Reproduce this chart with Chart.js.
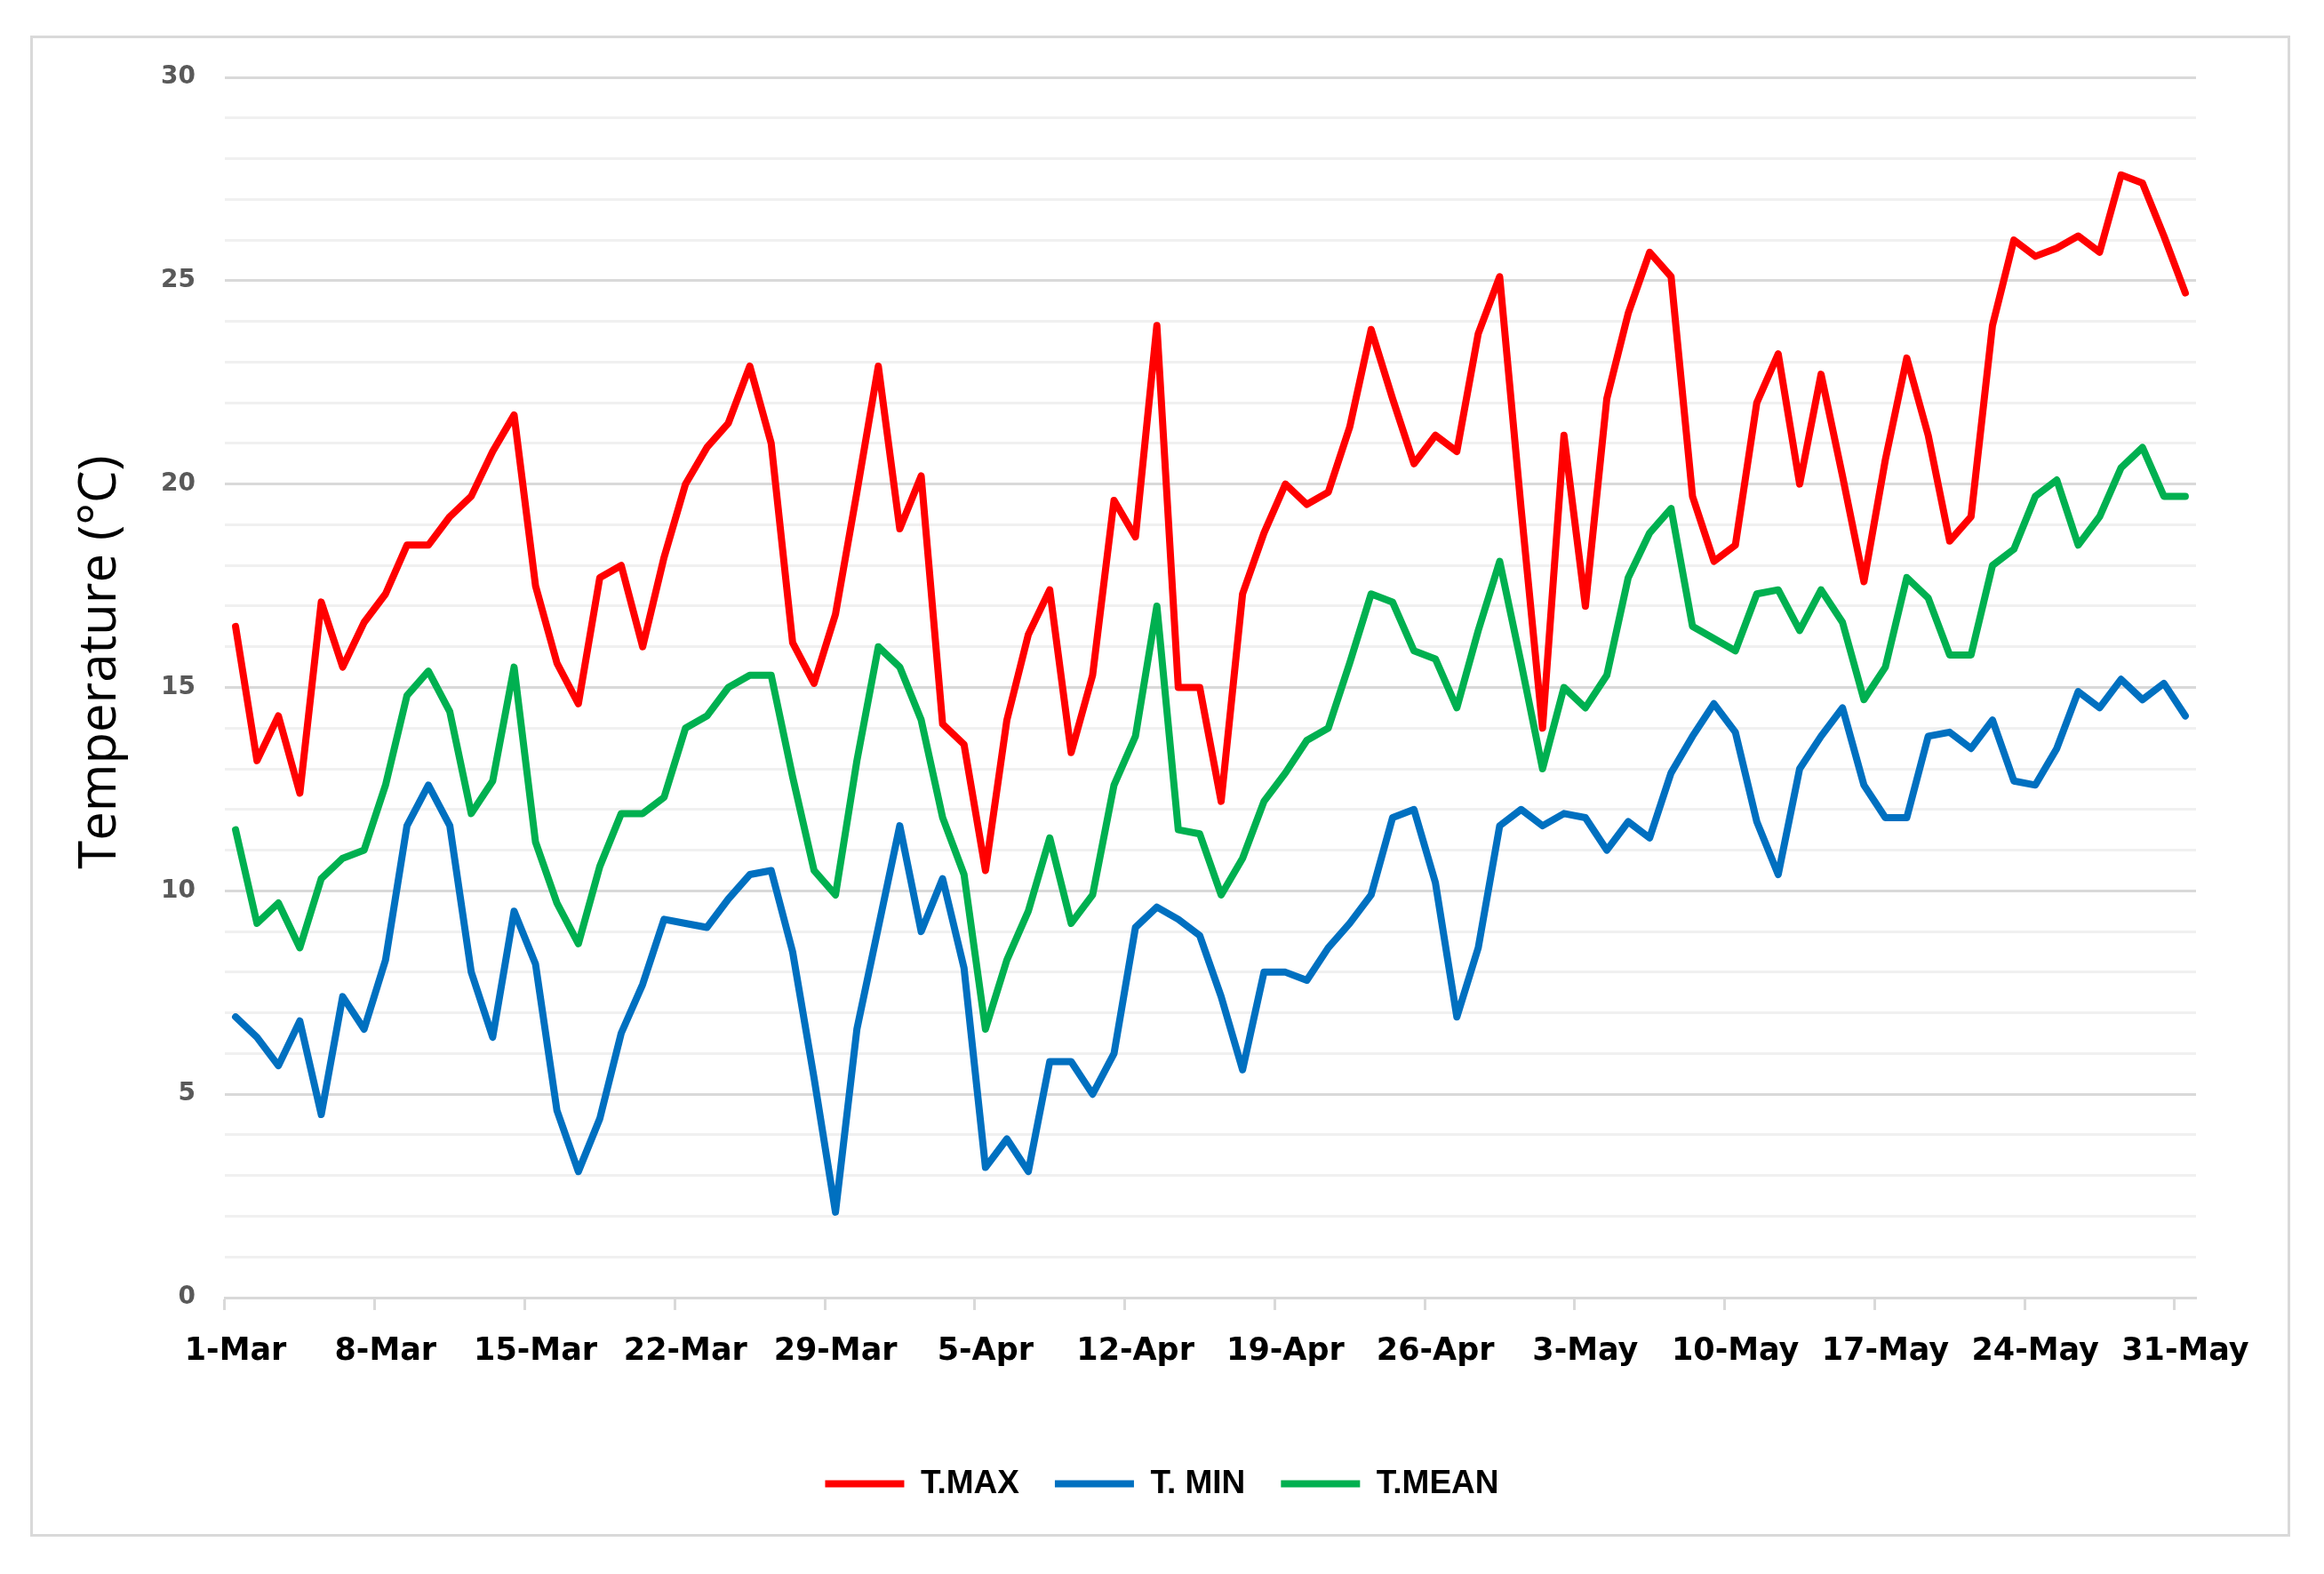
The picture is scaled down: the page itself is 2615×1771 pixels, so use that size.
<!DOCTYPE html>
<html>
<head>
<meta charset="utf-8">
<script src="https://cdn.jsdelivr.net/npm/chart.js@4.4.1/dist/chart.umd.min.js"></script>
<style>
  html, body { margin: 0; padding: 0; background: #fff; overflow: hidden; }
  canvas { display: block; }
</style>
</head>
<body>
<canvas id="chart" width="2615" height="1771"></canvas>
<script>
// category labels: one per day, 1-Mar .. 31-May
const months = [['Mar', 31], ['Apr', 30], ['May', 31]];
const days = [];
months.forEach(([m, n]) => {
  for (let d = 1; d <= n; d++) days.push(d + '-' + m);
});

const tMax = [
  16.5, 13.2, 14.3, 12.4, 17.1, 15.5, 16.6, 17.3, 18.5, 18.5,
  19.2, 19.7, 20.8, 21.7, 17.5, 15.6, 14.6, 17.7, 18.0, 16.0,
  18.2, 20.0, 20.9, 21.5, 22.9, 21.0, 16.1, 15.1, 16.8, 19.8,
  22.9, 18.9, 20.2, 14.1, 13.6, 10.5, 14.2, 16.3, 17.4, 13.4,
  15.3, 19.6, 18.7, 23.9, 15.0, 15.0, 12.2, 17.3, 18.8, 20.0,
  19.5, 19.8, 21.4, 23.8, 22.1, 20.5, 21.2, 20.8, 23.7, 25.1,
  19.4, 14.0, 21.2, 17.0, 22.1, 24.2, 25.7, 25.1, 19.7, 18.1,
  18.5, 22.0, 23.2, 20.0, 22.7, 20.2, 17.6, 20.6, 23.1, 21.2,
  18.6, 19.2, 23.9, 26.0, 25.6, 25.8, 26.1, 25.7, 27.6, 27.4,
  26.1, 24.7
];

const tMin = [
  6.9, 6.4, 5.7, 6.8, 4.5, 7.4, 6.6, 8.3, 11.6, 12.6,
  11.6, 8.0, 6.4, 9.5, 8.2, 4.6, 3.1, 4.4, 6.5, 7.7,
  9.3, 9.2, 9.1, 9.8, 10.4, 10.5, 8.5, 5.4, 2.1, 6.6,
  9.1, 11.6, 9.0, 10.3, 8.1, 3.2, 3.9, 3.1, 5.8, 5.8,
  5.0, 6.0, 9.1, 9.6, 9.3, 8.9, 7.4, 5.6, 8.0, 8.0,
  7.8, 8.6, 9.2, 9.9, 11.8, 12.0, 10.2, 6.9, 8.6, 11.6,
  12.0, 11.6, 11.9, 11.8, 11.0, 11.7, 11.3, 12.9, 13.8, 14.6,
  13.9, 11.7, 10.4, 13.0, 13.8, 14.5, 12.6, 11.8, 11.8, 13.8,
  13.9, 13.5, 14.2, 12.7, 12.6, 13.5, 14.9, 14.5, 15.2, 14.7,
  15.1, 14.3
];

const tMean = [
  11.5, 9.2, 9.7, 8.6, 10.3, 10.8, 11.0, 12.6, 14.8, 15.4,
  14.4, 11.9, 12.7, 15.5, 11.2, 9.7, 8.7, 10.6, 11.9, 11.9,
  12.3, 14.0, 14.3, 15.0, 15.3, 15.3, 12.8, 10.5, 9.9, 13.2,
  16.0, 15.5, 14.2, 11.8, 10.4, 6.6, 8.3, 9.5, 11.3, 9.2,
  9.9, 12.6, 13.8, 17.0, 11.5, 11.4, 9.9, 10.8, 12.2, 12.9,
  13.7, 14.0, 15.6, 17.3, 17.1, 15.9, 15.7, 14.5, 16.4, 18.1,
  15.6, 13.0, 15.0, 14.5, 15.3, 17.7, 18.8, 19.4, 16.5, 16.2,
  15.9, 17.3, 17.4, 16.4, 17.4, 16.6, 14.7, 15.5, 17.7, 17.2,
  15.8, 15.8, 18.0, 18.4, 19.7, 20.1, 18.5, 19.2, 20.4, 20.9,
  19.7, 19.7
];

const seriesNames = ['T.MAX', 'T. MIN', 'T.MEAN'];
const seriesColors = ['#FF0000', '#0070C0', '#00B050'];
const yTicks = [0, 5, 10, 15, 20, 25, 30];
const yTitle = 'Temperature (°C)';

const lineStyle = (label, data, color) => ({
  label: label,
  data: data,
  borderColor: color,
  backgroundColor: color,
  borderWidth: 8,
  pointRadius: 0,
  tension: 0,
  borderJoinStyle: 'round',
  borderCapStyle: 'round',
  fill: false
});

// white page, light grey frame, and the y title drawn by hand
// (Excel puts it a bit above the middle of the plot)
const frame = {
  id: 'frame',
  beforeDraw(chart) {
    const c = chart.ctx;
    c.save();
    c.fillStyle = '#fff';
    c.fillRect(0, 0, chart.width, chart.height);
    c.strokeStyle = '#d9d9d9';
    c.lineWidth = 3;
    c.strokeRect(35.5, 41.5, 2540, 1686);
    c.restore();
  },
  afterDraw(chart) {
    const c = chart.ctx;
    c.save();
    c.translate(113, 745);
    c.rotate(-Math.PI / 2);
    c.font = '58px "Open Sans", sans-serif';
    c.fillStyle = '#000';
    c.textAlign = 'center';
    c.textBaseline = 'middle';
    c.fillText(yTitle, 0, 0);
    c.restore();
  }
};

new Chart(document.getElementById('chart').getContext('2d'), {
  type: 'line',
  data: {
    labels: days,
    datasets: [
      lineStyle(seriesNames[0], tMax, seriesColors[0]),
      lineStyle(seriesNames[1], tMin, seriesColors[1]),
      lineStyle(seriesNames[2], tMean, seriesColors[2])
    ]
  },
  options: {
    responsive: false,
    animation: false,
    layout: {
      padding: { top: 87, right: 0, bottom: 73, left: 0 }
    },
    plugins: {
      title: { display: false },
      tooltip: { enabled: false },
      legend: {
        display: true,
        position: 'bottom',
        labels: {
          usePointStyle: true,
          pointStyle: 'line',
          pointStyleWidth: 89,
          boxHeight: 38,
          color: '#000',
          padding: 40,
          font: { family: 'Liberation Sans, Arial, sans-serif', size: 37, weight: 'bold' }
        }
      }
    },
    scales: {
      x: {
        type: 'category',
        offset: true,
        afterFit(scale) { scale.height = 151; },
        border: { display: true, color: '#d9d9d9', width: 3 },
        grid: {
          offset: true,
          drawOnChartArea: false,
          drawTicks: true,
          tickLength: 14,
          tickWidth: 3,
          tickColor: ctx => (ctx.index % 7 === 0 ? '#d9d9d9' : 'rgba(0,0,0,0)')
        },
        ticks: {
          autoSkip: false,
          maxRotation: 0,
          minRotation: 0,
          padding: 26,
          color: '#000',
          font: { family: 'DejaVu Sans, Verdana, sans-serif', size: 35, weight: 'bold' },
          callback: (v, i) => (i % 7 === 0 ? days[i] : '')
        }
      },
      y: {
        min: 0,
        max: 30,
        afterFit(scale) { scale.width = 253; },
        border: { display: false },
        grid: {
          drawTicks: false,
          lineWidth: 3,
          color: ctx => (yTicks.includes(ctx.tick.value) ? '#d9d9d9' : '#f0f0f0')
        },
        ticks: {
          stepSize: 1,
          autoSkip: false,
          padding: 33,
          color: '#595959',
          font: { family: 'DejaVu Sans, Verdana, sans-serif', size: 28, weight: 'bold' },
          callback: v => (yTicks.includes(v) ? v : '')
        }
      },
      // empty right-hand strip so the legend centres on the whole page
      yRight: {
        position: 'right',
        display: true,
        afterFit(scale) { scale.width = 144; },
        border: { display: false },
        grid: { drawOnChartArea: false, drawTicks: false },
        ticks: { display: false }
      }
    }
  },
  plugins: [frame]
});
</script>
</body>
</html>
